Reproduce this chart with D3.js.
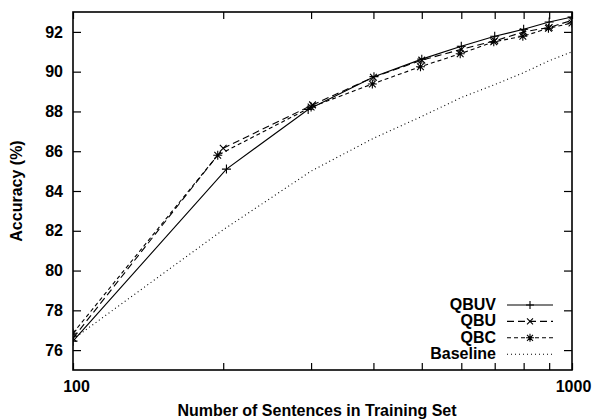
<!DOCTYPE html>
<html>
<head>
<meta charset="utf-8">
<script src="https://cdn.jsdelivr.net/npm/d3@7/dist/d3.min.js"></script>
<style>
  html, body { margin: 0; padding: 0; background: #fff; }
  svg { display: block; }
  text { font-family: "Liberation Sans", Arial, sans-serif; font-weight: bold; fill: #000; }
</style>
</head>
<body>
<svg id="chart" width="594" height="419"></svg>
<script>
// ---- data ----
const seriesNames = ["QBUV", "QBU", "QBC", "Baseline"];
const qbuvX = [100, 203, 296, 401, 500, 600, 700, 800, 900, 1000];
const qbuvY = [76.45, 85.1, 88.1, 89.75, 90.63, 91.28, 91.78, 92.13, 92.5, 92.75];
const qbuX  = [100, 200, 302, 400, 500, 600, 700, 800, 900, 1000];
const qbuY  = [76.6, 86.15, 88.33, 89.72, 90.58, 91.12, 91.55, 92.0, 92.22, 92.58];
const qbcX  = [100, 195, 300, 398, 497, 597, 697, 797, 897, 1000];
const qbcY  = [76.85, 85.8, 88.22, 89.38, 90.25, 90.9, 91.5, 91.78, 92.18, 92.45];
const baseX = [100, 200, 300, 400, 500, 600, 700, 800, 900, 1000];
const baseY = [76.55, 82.05, 85.0, 86.65, 87.75, 88.7, 89.35, 89.95, 90.55, 91.0];
const yTicks = [76, 78, 80, 82, 84, 86, 88, 90, 92];
const xTicks = [100, 200, 300, 400, 500, 600, 700, 800, 900, 1000];
const xTickLabels = ["100", "1000"];
const xTitle = "Number of Sentences in Training Set";
const yTitle = "Accuracy (%)";

// ---- layout ----
const svg = d3.select("#chart");
const L = 73, R = 572, T = 12, B = 370;
const FS = 16;
const x = d3.scaleLog().domain([100, 1000]).range([L, R]);
const y = d3.scaleLinear().domain([75, 93]).range([B, T]);

const series = [
  { name: seriesNames[0], xs: qbuvX, ys: qbuvY, dash: null, marker: "plus" },
  { name: seriesNames[1], xs: qbuX, ys: qbuY, dash: "7,4", marker: "cross" },
  { name: seriesNames[2], xs: qbcX, ys: qbcY, dash: "4,3", marker: "star" },
  { name: seriesNames[3], xs: baseX, ys: baseY, dash: "1,3", marker: null }
];

function markerPath(type, cx, cy, s) {
  const p = d3.path();
  if (type === "plus" || type === "star") {
    p.moveTo(cx - s, cy); p.lineTo(cx + s, cy);
    p.moveTo(cx, cy - s); p.lineTo(cx, cy + s);
  }
  if (type === "cross" || type === "star") {
    const d = s * 0.75;
    p.moveTo(cx - d, cy - d); p.lineTo(cx + d, cy + d);
    p.moveTo(cx - d, cy + d); p.lineTo(cx + d, cy - d);
  }
  return p.toString();
}

// clip
svg.append("clipPath").attr("id", "clip").append("rect")
  .attr("x", L).attr("y", T).attr("width", R - L).attr("height", B - T);

const plot = svg.append("g").attr("clip-path", "url(#clip)");
series.forEach(s => {
  const pts = s.xs.map((v, i) => [v, s.ys[i]]);
  const line = d3.line().x(d => x(d[0])).y(d => y(d[1]));
  plot.append("path").datum(pts)
    .attr("d", line)
    .attr("fill", "none").attr("stroke", "#000").attr("stroke-width", 1.1)
    .attr("stroke-dasharray", s.dash);
  if (s.marker) {
    plot.selectAll(null).data(pts).enter().append("path")
      .attr("d", d => markerPath(s.marker, x(d[0]), y(d[1]), 4.5))
      .attr("fill", "none").attr("stroke", "#000").attr("stroke-width", 1.1);
  }
});

// axes (ticks inward, mirrored)
const axisG = svg.append("g");
const axL = d3.axisLeft(y).tickValues(yTicks).tickSize(-8).tickPadding(10).tickFormat(d3.format("d"));
const axR = d3.axisRight(y).tickValues(yTicks).tickSize(-8).tickFormat("");
const axB = d3.axisBottom(x).tickValues(xTicks).tickSize(-7).tickPadding(11)
  .tickFormat(d => xTickLabels.includes(String(d)) ? String(d) : "");
const axT = d3.axisTop(x).tickValues(xTicks).tickSize(-7).tickFormat("");

axisG.append("g").attr("transform", `translate(${L},0)`).call(axL);
axisG.append("g").attr("transform", `translate(${R},0)`).call(axR);
const gB = axisG.append("g").attr("transform", `translate(0,${B})`).call(axB);
axisG.append("g").attr("transform", `translate(0,${T})`).call(axT);
axisG.selectAll(".domain").remove();
axisG.selectAll(".tick line").attr("stroke", "#000").attr("stroke-width", 1.2);
axisG.selectAll(".tick text").attr("font-size", FS)
  .style("font-family", "'Liberation Sans', Arial, sans-serif").style("font-weight", "bold").attr("fill", "#000");
gB.selectAll(".tick text").attr("dx", d => d === 100 ? 3 : 1);

svg.append("rect").attr("x", L).attr("y", T).attr("width", R - L).attr("height", B - T)
  .attr("fill", "none").attr("stroke", "#000").attr("stroke-width", 1.6);

// titles
svg.append("text").attr("x", 317).attr("y", 416).attr("text-anchor", "middle")
  .attr("font-size", FS).text(xTitle);
svg.append("text").attr("transform", `translate(22,${(T + B) / 2}) rotate(-90)`)
  .attr("text-anchor", "middle").attr("font-size", FS).text(yTitle);

// legend
const lg = svg.append("g");
series.forEach((s, i) => {
  const by = 310 + i * 16.4;
  lg.append("text").attr("x", 496).attr("y", by).attr("text-anchor", "end")
    .attr("font-size", FS).text(s.name);
  const ly = by - 5;
  lg.append("line").attr("x1", 507).attr("x2", 553).attr("y1", ly).attr("y2", ly)
    .attr("stroke", "#000").attr("stroke-width", 1.1).attr("stroke-dasharray", s.dash);
  if (s.marker) {
    lg.append("path").attr("d", markerPath(s.marker, 530, ly, 4))
      .attr("fill", "none").attr("stroke", "#000").attr("stroke-width", 1.1);
  }
});
</script>
</body>
</html>
